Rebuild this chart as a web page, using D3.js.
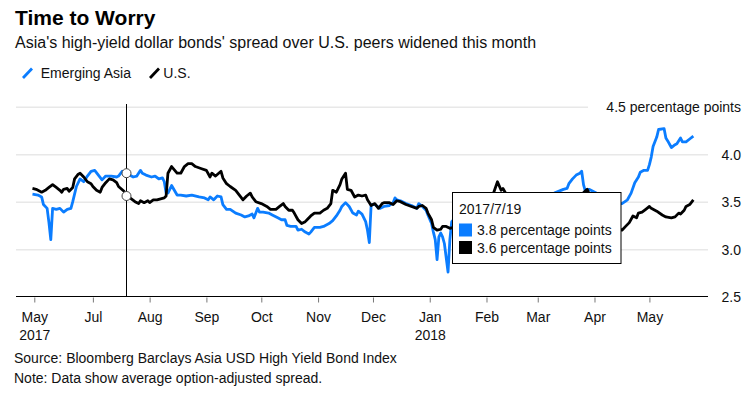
<!DOCTYPE html>
<html>
<head>
<meta charset="utf-8">
<script src="https://cdn.jsdelivr.net/npm/d3@7"></script>
<style>
  html, body { margin: 0; padding: 0; background: #fff; }
  svg { display: block; font-family: "Liberation Sans", Arial, Helvetica, sans-serif; }
</style>
</head>
<body>
<div id="chart"></div>
<script>
// ── Data ──────────────────────────────────────────────────────────────────────
const asiaDates = [
  "2017-05-29","2017-06-01","2017-06-03","2017-06-04","2017-06-06","2017-06-07","2017-06-08","2017-06-09",
  "2017-06-11","2017-06-13","2017-06-15","2017-06-17","2017-06-19","2017-06-20","2017-06-22","2017-06-24",
  "2017-06-26","2017-06-28","2017-06-30","2017-07-02","2017-07-04","2017-07-06","2017-07-08","2017-07-11",
  "2017-07-14","2017-07-15","2017-07-17","2017-07-19","2017-07-21","2017-07-23","2017-07-25","2017-07-27",
  "2017-07-28","2017-07-30","2017-08-02","2017-08-04","2017-08-06","2017-08-08","2017-08-09","2017-08-10",
  "2017-08-11","2017-08-13","2017-08-16","2017-08-18","2017-08-21","2017-08-24","2017-08-28","2017-08-31",
  "2017-09-02","2017-09-03","2017-09-05","2017-09-07","2017-09-09","2017-09-10","2017-09-12","2017-09-14",
  "2017-09-17","2017-09-20","2017-09-22","2017-09-24","2017-09-26","2017-09-27","2017-09-29","2017-09-30",
  "2017-10-02","2017-10-05","2017-10-07","2017-10-10","2017-10-12","2017-10-14","2017-10-15","2017-10-17",
  "2017-10-20","2017-10-21","2017-10-23","2017-10-25","2017-10-27","2017-10-28","2017-10-30","2017-11-02",
  "2017-11-04","2017-11-07","2017-11-09","2017-11-11","2017-11-13","2017-11-14","2017-11-16","2017-11-18",
  "2017-11-20","2017-11-22","2017-11-23","2017-11-25","2017-11-27","2017-11-28","2017-11-29","2017-11-30",
  "2017-12-02","2017-12-05","2017-12-07","2017-12-10","2017-12-12","2017-12-13","2017-12-14","2017-12-16",
  "2017-12-19","2017-12-22","2017-12-25","2017-12-26","2017-12-28","2017-12-30","2017-12-31","2018-01-02",
  "2018-01-03","2018-01-04","2018-01-05","2018-01-06","2018-01-07","2018-01-08","2018-01-09","2018-01-11",
  "2018-01-12","2018-01-13","2018-01-16","2018-01-20","2018-01-25","2018-01-30","2018-02-05","2018-02-10",
  "2018-02-15","2018-02-20","2018-02-25","2018-03-02","2018-03-06","2018-03-10","2018-03-15","2018-03-17",
  "2018-03-18","2018-03-20","2018-03-22","2018-03-24","2018-03-25","2018-03-26","2018-03-27","2018-03-28",
  "2018-03-29","2018-04-03","2018-04-08","2018-04-13","2018-04-16","2018-04-19","2018-04-21","2018-04-23",
  "2018-04-25","2018-04-26","2018-04-28","2018-04-30","2018-05-01","2018-05-02","2018-05-03","2018-05-05",
  "2018-05-06","2018-05-09","2018-05-10","2018-05-11","2018-05-13","2018-05-15","2018-05-16","2018-05-18",
  "2018-05-19","2018-05-21","2018-05-23","2018-05-25"
];
const asiaValues = [
  3.58,3.57,3.55,3.47,3.43,3.28,3.10,3.43,
  3.42,3.43,3.39,3.42,3.43,3.50,3.66,3.74,
  3.71,3.77,3.82,3.83,3.78,3.73,3.77,3.77,
  3.76,3.77,3.82,3.80,3.78,3.76,3.77,3.83,
  3.80,3.78,3.76,3.77,3.74,3.75,3.71,3.59,
  3.59,3.67,3.57,3.57,3.56,3.57,3.55,3.54,
  3.52,3.55,3.52,3.56,3.55,3.47,3.42,3.42,
  3.38,3.36,3.34,3.35,3.37,3.33,3.43,3.39,
  3.39,3.38,3.36,3.33,3.31,3.31,3.25,3.24,
  3.24,3.20,3.21,3.18,3.16,3.18,3.23,3.23,
  3.24,3.27,3.30,3.35,3.41,3.45,3.49,3.45,
  3.38,3.36,3.40,3.37,3.29,3.20,3.07,3.47,
  3.47,3.43,3.45,3.46,3.49,3.54,3.52,3.51,
  3.48,3.46,3.43,3.48,3.45,3.41,3.36,3.27,
  3.18,3.10,2.89,3.13,3.17,3.13,3.06,2.76,
  3.10,3.29,3.35,3.38,3.42,3.45,3.50,3.52,
  3.54,3.55,3.55,3.56,3.57,3.59,3.63,3.64,
  3.69,3.74,3.78,3.80,3.82,3.68,3.61,3.62,
  3.63,3.58,3.52,3.48,3.48,3.52,3.59,3.70,
  3.76,3.81,3.83,3.83,3.89,3.97,4.08,4.18,
  4.26,4.27,4.17,4.14,4.07,4.10,4.11,4.17,
  4.13,4.13,4.16,4.19
];

const usDates = [
  "2017-05-29","2017-05-31","2017-06-01","2017-06-03","2017-06-05","2017-06-07","2017-06-09","2017-06-11",
  "2017-06-13","2017-06-14","2017-06-15","2017-06-17","2017-06-18","2017-06-20","2017-06-21","2017-06-23",
  "2017-06-24","2017-06-26","2017-06-28","2017-06-30","2017-07-01","2017-07-03","2017-07-05","2017-07-06",
  "2017-07-08","2017-07-10","2017-07-12","2017-07-14","2017-07-15","2017-07-18","2017-07-19","2017-07-22",
  "2017-07-24","2017-07-26","2017-07-27","2017-07-29","2017-07-31","2017-08-01","2017-08-03","2017-08-05",
  "2017-08-07","2017-08-09","2017-08-10","2017-08-11","2017-08-13","2017-08-16","2017-08-18","2017-08-20",
  "2017-08-22","2017-08-24","2017-08-26","2017-08-29","2017-09-01","2017-09-03","2017-09-04","2017-09-06",
  "2017-09-09","2017-09-10","2017-09-12","2017-09-14","2017-09-17","2017-09-19","2017-09-21","2017-09-23",
  "2017-09-25","2017-09-26","2017-09-28","2017-10-01","2017-10-04","2017-10-06","2017-10-09","2017-10-11",
  "2017-10-13","2017-10-14","2017-10-16","2017-10-18","2017-10-19","2017-10-21","2017-10-23","2017-10-25",
  "2017-10-26","2017-10-28","2017-10-30","2017-11-02","2017-11-04","2017-11-06","2017-11-08","2017-11-09",
  "2017-11-11","2017-11-13","2017-11-14","2017-11-16","2017-11-17","2017-11-19","2017-11-21","2017-11-23",
  "2017-11-25","2017-11-27","2017-11-28","2017-11-30","2017-12-02","2017-12-04","2017-12-06","2017-12-07",
  "2017-12-10","2017-12-12","2017-12-14","2017-12-16","2017-12-19","2017-12-22","2017-12-25","2017-12-26",
  "2017-12-28","2017-12-30","2017-12-31","2018-01-02","2018-01-03","2018-01-05","2018-01-07","2018-01-08",
  "2018-01-10","2018-01-12","2018-01-16","2018-01-20","2018-01-24","2018-01-28","2018-01-31","2018-02-03",
  "2018-02-05","2018-02-07","2018-02-09","2018-02-10","2018-02-12","2018-02-16","2018-02-21","2018-02-26",
  "2018-03-03","2018-03-10","2018-03-17","2018-03-24","2018-03-28","2018-03-31","2018-04-05","2018-04-10",
  "2018-04-16","2018-04-18","2018-04-20","2018-04-22","2018-04-24","2018-04-25","2018-04-27","2018-04-29",
  "2018-05-01","2018-05-02","2018-05-05","2018-05-08","2018-05-10","2018-05-13","2018-05-15","2018-05-17",
  "2018-05-18","2018-05-20","2018-05-21","2018-05-23","2018-05-25"
];
const usValues = [
  3.64,3.63,3.62,3.60,3.62,3.65,3.68,3.65,
  3.62,3.60,3.63,3.64,3.61,3.65,3.74,3.79,
  3.80,3.76,3.71,3.69,3.66,3.62,3.60,3.65,
  3.70,3.74,3.73,3.70,3.66,3.61,3.56,3.53,
  3.50,3.48,3.51,3.49,3.51,3.49,3.52,3.52,
  3.53,3.54,3.56,3.80,3.87,3.80,3.80,3.87,
  3.90,3.90,3.87,3.85,3.83,3.76,3.80,3.77,
  3.82,3.75,3.69,3.66,3.62,3.57,3.52,3.56,
  3.59,3.55,3.50,3.48,3.45,3.42,3.42,3.45,
  3.48,3.45,3.41,3.41,3.38,3.31,3.27,3.29,
  3.31,3.35,3.38,3.38,3.41,3.43,3.48,3.62,
  3.60,3.68,3.74,3.80,3.63,3.62,3.55,3.57,
  3.56,3.57,3.52,3.46,3.48,3.43,3.48,3.49,
  3.49,3.47,3.51,3.50,3.47,3.45,3.43,3.45,
  3.46,3.43,3.38,3.31,3.23,3.20,3.21,3.24,
  3.24,3.22,3.24,3.25,3.27,3.30,3.38,3.48,
  3.60,3.71,3.62,3.64,3.57,3.55,3.54,3.53,
  3.54,3.53,3.55,3.56,3.63,3.50,3.38,3.25,
  3.20,3.24,3.28,3.35,3.33,3.38,3.39,3.42,
  3.45,3.43,3.40,3.36,3.34,3.33,3.34,3.38,
  3.37,3.41,3.45,3.47,3.52
];

const xTickDates = ["2017-05-30","2017-07-01","2017-08-01","2017-09-01","2017-10-01","2017-11-01",
                    "2017-12-01","2018-01-01","2018-02-01","2018-03-01","2018-04-01","2018-05-01"];
const xTickLabels = ["May|2017","Jul","Aug","Sep","Oct","Nov","Dec","Jan|2018","Feb","Mar","Apr","May"];
const yTicks = [2.5, 3.0, 3.5, 4.0, 4.5];
const yUnit = "percentage points";
const seriesNames = ["Emerging Asia", "U.S."];
const hoverDate = "2017-07-19";

// ── Setup ─────────────────────────────────────────────────────────────────────
const W = 755, H = 394;
const BLUE = "#0b7dff";
const parse = d3.timeParse("%Y-%m-%d");

const series = [
  { name: seriesNames[0], color: BLUE, points: asiaDates.map((d, i) => ({ date: parse(d), value: asiaValues[i] })) },
  { name: seriesNames[1], color: "#000", points: usDates.map((d, i) => ({ date: parse(d), value: usValues[i] })) },
];

const x = d3.scaleTime()
  .domain([parse("2017-05-20"), parse("2018-06-02")])
  .range([16, 708]);
const y = d3.scaleLinear().domain([2.5, 4.5]).range([296.7, 106.7]);

const svg = d3.select("#chart").append("svg")
  .attr("width", W).attr("height", H);

// ── Titles
svg.append("text").attr("x", 15).attr("y", 25)
  .attr("font-size", 21).attr("font-weight", "bold").attr("fill", "#000")
  .text("Time to Worry");
svg.append("text").attr("x", 15).attr("y", 47.5)
  .attr("font-size", 16).attr("fill", "#111")
  .text("Asia's high-yield dollar bonds' spread over U.S. peers widened this month");

// ── Legend
const legend = svg.append("g").attr("class", "legend");
[[23, 40.7], [150, 163.3]].forEach(([ix, tx], i) => {
  legend.append("line")
    .attr("x1", ix).attr("y1", 78).attr("x2", ix + 9).attr("y2", 68.5)
    .attr("stroke", series[i].color).attr("stroke-width", 2.8);
  legend.append("text").attr("x", tx).attr("y", 78)
    .attr("font-size", 14).attr("fill", "#111")
    .text(series[i].name);
});

// ── Gridlines (top one stops short of its long label)
const grid = svg.append("g").attr("class", "grid")
  .attr("transform", "translate(708,0)")
  .call(d3.axisLeft(y).tickValues(yTicks.slice(1)).tickSize(692).tickFormat(""));
grid.select(".domain").remove();
grid.selectAll(".tick line")
  .attr("stroke", "#e8e8e8").attr("stroke-width", 1.5)
  .attr("x1", d => (d === 4.5 ? -120 : 0));

// ── Y labels (right side)
const yAxis = svg.append("g").attr("class", "y-axis")
  .attr("transform", "translate(741,0)")
  .call(d3.axisRight(y).tickValues(yTicks).tickSize(0).tickPadding(0)
    .tickFormat(d => (d === 4.5 ? `${d3.format(".1f")(d)} ${yUnit}` : d3.format(".1f")(d))));
yAxis.select(".domain").remove();
yAxis.selectAll("text")
  .attr("text-anchor", "end").attr("dy", "0.36em")
  .attr("font-size", 14).attr("font-family", null).attr("fill", "#111");

// ── X axis
const xAxis = svg.append("g").attr("class", "x-axis")
  .attr("transform", "translate(0,296.5)")
  .call(d3.axisBottom(x).tickValues(xTickDates.map(parse)).tickSize(6).tickSizeOuter(0)
    .tickFormat((d, i) => xTickLabels[i]));
xAxis.select(".domain").attr("stroke", "#000").attr("d", "M16,0H708");
xAxis.selectAll(".tick line").attr("stroke", "#777").attr("y1", 1);
xAxis.selectAll(".tick text")
  .attr("font-size", 14).attr("font-family", null).attr("fill", "#111")
  .attr("y", 0).attr("dy", null)
  .each(function (d, i) {
    const parts = xTickLabels[i].split("|");
    const t = d3.select(this).text(null);
    parts.forEach((p, k) => t.append("tspan").attr("x", 0).attr("y", 25.5 + k * 17.5).text(p));
  });

// ── Lines
const line = d3.line().x(d => x(d.date)).y(d => y(d.value));
svg.append("g").attr("class", "lines")
  .selectAll("path").data(series).join("path")
  .attr("d", d => line(d.points))
  .attr("fill", "none")
  .attr("stroke", d => d.color)
  .attr("stroke-width", 2.8)
  .attr("stroke-linejoin", "round");

// ── Hover crosshair + tooltip
const hd = parse(hoverDate);
const hx = Math.round(x(hd)) + 0.5;
const hoverVals = series.map(s => s.points.find(p => +p.date === +hd).value);

svg.append("line").attr("x1", hx).attr("x2", hx).attr("y1", 104).attr("y2", 296.5)
  .attr("stroke", "#000").attr("stroke-width", 1);
svg.append("g").selectAll("circle").data(hoverVals).join("circle")
  .attr("cx", hx).attr("cy", d => y(d)).attr("r", 4.5)
  .attr("fill", "#fff").attr("stroke", "#444").attr("stroke-width", 1);

const tip = svg.append("g").attr("class", "tooltip").attr("transform", "translate(452.5,192.5)");
tip.append("rect").attr("width", 168.5).attr("height", 71)
  .attr("fill", "#fff").attr("stroke", "#000").attr("stroke-width", 1);
tip.append("text").attr("x", 6.5).attr("y", 21)
  .attr("font-size", 14).attr("fill", "#111")
  .text(d3.timeFormat("%Y/%-m/%-d")(hd));
hoverVals.forEach((v, i) => {
  tip.append("rect").attr("x", 6.5).attr("y", 31 + i * 17.5).attr("width", 13).attr("height", 13)
    .attr("fill", series[i].color);
  tip.append("text").attr("x", 24.5).attr("y", 42.5 + i * 17.5)
    .attr("font-size", 14).attr("fill", "#111")
    .text(`${d3.format(".1f")(v)} ${yUnit}`);
});

// ── Footnotes
svg.append("text").attr("x", 14).attr("y", 362.5).attr("font-size", 14).attr("fill", "#111")
  .text("Source: Bloomberg Barclays Asia USD High Yield Bond Index");
svg.append("text").attr("x", 14).attr("y", 382.5).attr("font-size", 14).attr("fill", "#111")
  .text("Note: Data show average option-adjusted spread.");
</script>
</body>
</html>
